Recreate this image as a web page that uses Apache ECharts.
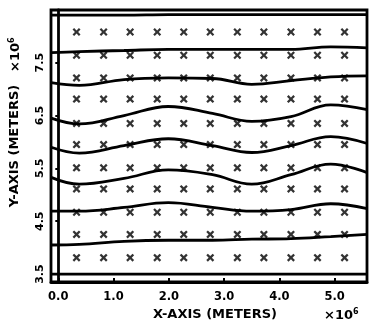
<!DOCTYPE html>
<html>
<head>
<meta charset="utf-8">
<script src="https://cdn.jsdelivr.net/npm/echarts@6/dist/echarts.min.js"></script>
<style>
html,body{margin:0;padding:0;background:#fff;}
#c{width:371px;height:326px;}
</style>
</head>
<body>
<div id="c"></div>
<script>
// ---- data ----
const xTickValues = [0, 1, 2, 3, 4, 5];
const xTickLabels = ['0.0', '1.0', '2.0', '3.0', '4.0', '5.0'];
const yTickValues = [3.5, 4.5, 5.5, 6.5, 7.5];
const yTickLabels = ['3.5', '4.5', '5.5', '6.5', '7.5'];

const curveX = [-0.13, 0.38, 1.19, 1.99, 2.79, 3.50, 4.21, 4.93, 5.59];
const curveTop = [8.40, 8.40, 8.40, 8.41, 8.41, 8.41, 8.41, 8.41, 8.41];
const curve2 = [7.69, 7.71, 7.73, 7.75, 7.75, 7.75, 7.75, 7.80, 7.78];
const curve3 = [7.12, 7.07, 7.18, 7.21, 7.20, 7.09, 7.16, 7.23, 7.25];
const curve4 = [6.45, 6.34, 6.50, 6.67, 6.54, 6.39, 6.48, 6.70, 6.61];
const curve5 = [5.90, 5.79, 5.93, 6.06, 5.93, 5.80, 5.93, 6.10, 5.97];
const curve6 = [5.33, 5.20, 5.31, 5.47, 5.38, 5.20, 5.38, 5.58, 5.42];
const curve7 = [4.69, 4.69, 4.76, 4.85, 4.76, 4.69, 4.72, 4.83, 4.74];
const curve8 = [4.05, 4.06, 4.12, 4.14, 4.14, 4.16, 4.17, 4.21, 4.25];
const curveBottom = [3.50, 3.50, 3.50, 3.50, 3.50, 3.50, 3.50, 3.50, 3.50];

const markerX = [0.33, 0.82, 1.30, 1.79, 2.27, 2.75, 3.24, 3.72, 4.21, 4.69, 5.18];
const markerY = [8.08, 7.64, 7.21, 6.81, 6.35, 5.95, 5.51, 5.11, 4.67, 4.25, 3.81];

// ---- build chart ----
const FONT = 'DejaVu Sans';
const curves = [curveTop, curve2, curve3, curve4, curve5, curve6, curve7, curve8, curveBottom];
const lineSeries = curves.map(c => ({
  type: 'line',
  data: curveX.map((x, i) => [x, c[i]]),
  smooth: 0.4,
  symbol: 'none',
  lineStyle: { color: '#000', width: 2.8 },
  silent: true,
  z: 3
}));

const markers = [];
markerY.forEach(y => markerX.forEach(x => markers.push([x, y])));

const xShape = 'path://M0,2 L2,0 L5,3 L8,0 L10,2 L7,5 L10,8 L8,10 L5,7 L2,10 L0,8 L3,5 Z';

const supRich = {
  a: { fontFamily: FONT, fontWeight: 'bold', fontSize: 13, fill: '#000' },
  b: { fontFamily: FONT, fontWeight: 'bold', fontSize: 8, fill: '#000', verticalAlign: 'top', padding: [0, 0, 8, 0] }
};

const chart = echarts.init(document.getElementById('c'), null, { renderer: 'canvas' });
chart.setOption({
  animation: false,
  backgroundColor: '#fff',
  grid: {
    left: 46, right: 4, top: 10, bottom: 35,
    show: true, borderColor: '#000', borderWidth: 2.8, backgroundColor: 'transparent'
  },
  xAxis: {
    type: 'value', min: -0.132, max: 5.586,
    axisLine: { show: true, lineStyle: { color: '#000', width: 2.8 } },
    axisTick: { show: true, inside: true, length: 4, customValues: xTickValues, lineStyle: { color: '#000', width: 2 } },
    axisLabel: {
      customValues: xTickValues,
      formatter: v => xTickLabels[xTickValues.indexOf(Math.round(v))] || '',
      color: '#000', fontFamily: FONT, fontWeight: 'bold', fontSize: 11.5, margin: 9
    },
    splitLine: { show: false },
    name: 'X-AXIS (METERS)', nameLocation: 'middle', nameGap: 26,
    nameTextStyle: { color: '#000', fontFamily: FONT, fontWeight: 'bold', fontSize: 13, padding: [0, 0, 0, 12] }
  },
  yAxis: {
    type: 'value', min: 3.35, max: 8.496,
    axisLine: { show: true, lineStyle: { color: '#000', width: 2.8 } },
    axisTick: { show: true, length: 3, customValues: yTickValues, lineStyle: { color: '#000', width: 2 } },
    axisLabel: {
      customValues: yTickValues,
      rotate: 90,
      formatter: v => { const i = yTickValues.findIndex(t => Math.abs(t - v) < 1e-6); return i >= 0 ? yTickLabels[i] : ''; },
      color: '#000', fontFamily: FONT, fontWeight: 'bold', fontSize: 11, margin: 5
    },
    splitLine: { show: false },
    name: 'Y-AXIS (METERS)', nameLocation: 'middle', nameGap: 30, nameRotate: 90,
    nameTextStyle: { color: '#000', fontFamily: FONT, fontWeight: 'bold', fontSize: 13 }
  },
  graphic: [
    {
      type: 'text', left: 324, top: 308, silent: true,
      style: { text: '{a|×10}{b|6}', rich: supRich }
    },
    {
      type: 'text', x: 8, y: 72, rotation: Math.PI / 2, silent: true,
      style: { text: '{a|×10}{b|6}', rich: supRich }
    }
  ],
  series: lineSeries.concat([{
    type: 'scatter',
    data: markers,
    symbol: xShape,
    symbolSize: 8,
    itemStyle: { color: '#000' },
    silent: true,
    z: 4
  }])
});
</script>
</body>
</html>
